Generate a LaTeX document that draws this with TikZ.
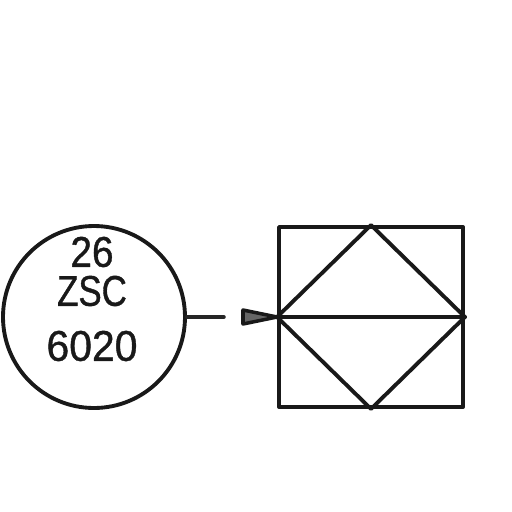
\documentclass[tikz,border=0pt]{standalone}
\usepackage{fontspec}
\setmainfont{Liberation Sans}
\begin{document}
\begin{tikzpicture}[x=0.02cm,y=-0.02cm,line join=round,line cap=round]
	\tikzset{ink/.style={draw=black!90,line width=2.2pt},
		stubink/.style={draw=black!85,line width=2pt},
		tagtext/.style={inner sep=0pt,text=black!90,font=\fontsize{24.5}{24.5}\selectfont\addfontfeature{FakeStretch=#1,FakeBold=0.9}}}
	\useasboundingbox (0,0) rectangle (512,512);
	\node[ink,circle,minimum size=182*0.02cm,inner sep=0pt] (bubble) at (94,317) {};
	\node[tagtext=0.9] (tagtop) at (92,252) {26};
	\node[tagtext=0.81] (tagmid) at (92,291) {ZSC};
	\node[tagtext=0.95] (tagnum) at (92,346) {6020};
	\node[ink,rectangle,minimum width=184*0.02cm,minimum height=180*0.02cm,inner sep=0pt] (valve) at (371,317) {};
	\coordinate (stubend) at (224,317);
	\coordinate (tipback) at (243,317);
	\draw[stubink] (bubble.east)--(stubend);
	\filldraw[draw=black!90,fill=black!60,line width=2pt] (tipback |- 0,310)--(valve.west)--(tipback |- 0,324)--cycle;
	\draw[ink] (valve.west)--(valve.east);
	\draw[ink] (valve.west)--(valve.north)--(valve.east)--(valve.south)--cycle;
\end{tikzpicture}
\end{document}
